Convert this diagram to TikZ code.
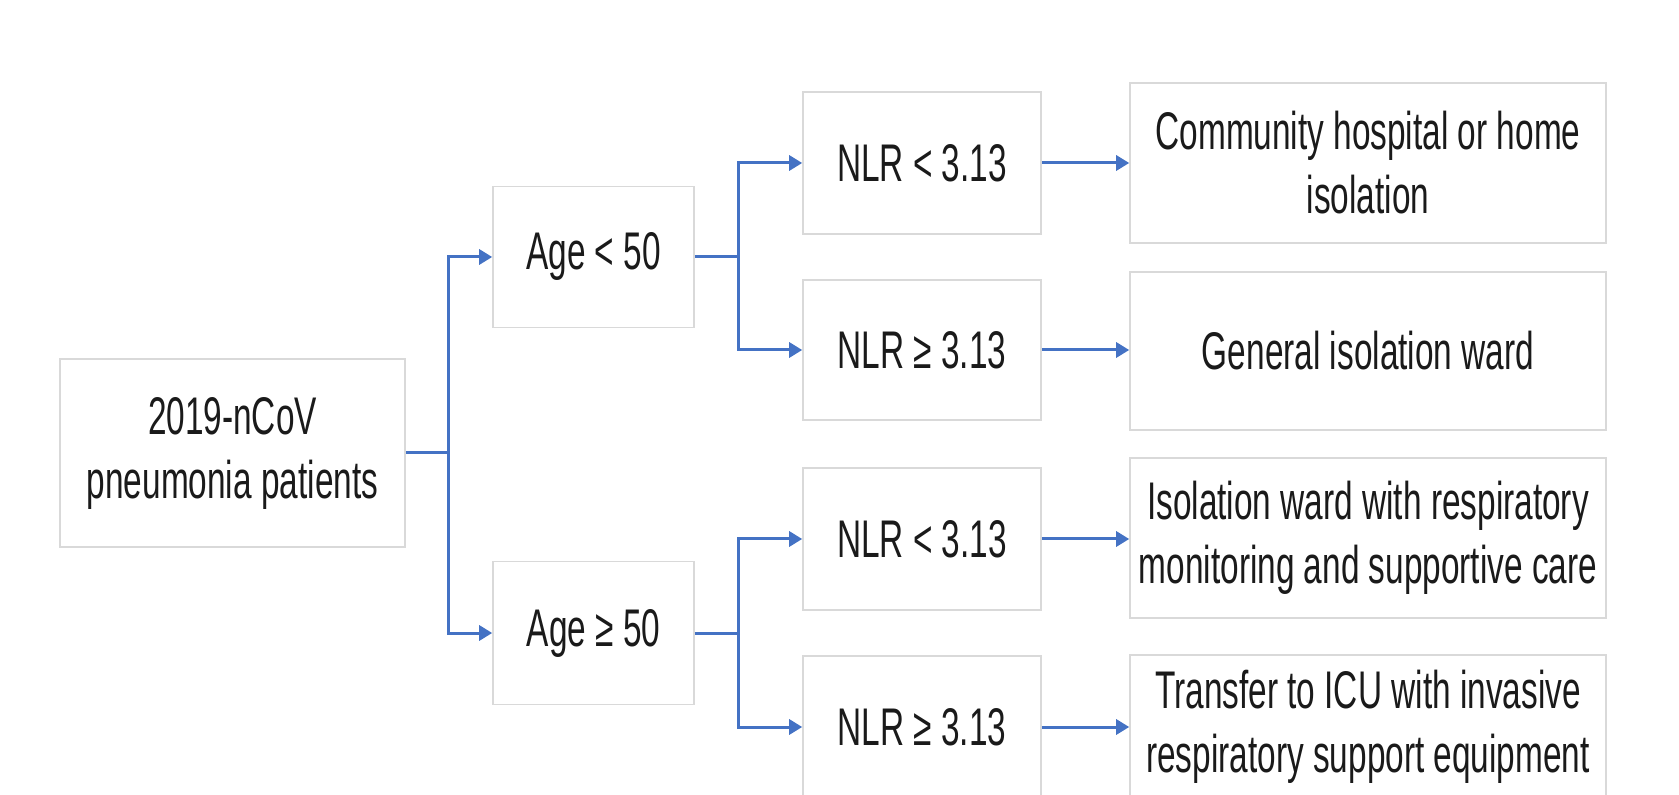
\documentclass[tikz,border=0pt]{standalone}
\usepackage{fontspec}
\usetikzlibrary{arrows.meta}
\newfontfamily\condsans[FakeStretch=0.63]{Liberation Sans}
\definecolor{flowblue}{HTML}{4472C4}
\definecolor{boxgray}{HTML}{D9D9D9}
\definecolor{txt}{HTML}{1A1A1A}
\begin{document}
\begin{tikzpicture}[x=0.5pt,y=-0.5pt,
  box/.style={draw=boxgray, line width=0.8pt, fill=white, inner sep=0pt, align=center,
    text=txt, font=\condsans\fontsize{26.5pt}{32pt}\selectfont},
  link/.style={draw=flowblue, line width=1.5pt},
  arr/.style={link, -{Triangle[length=6.5pt,width=7.5pt]}}]
\useasboundingbox (0,0) rectangle (1679,795);
\clip (0,0) rectangle (1679,795);
\fill[white] (0,0) rectangle (1679,795);
% nodes (sizes in pt = pixels / 2)
\node[box, minimum width=172.5pt, minimum height=94pt] (start) at (232.5,453) {2019-nCoV\\pneumonia patients};
\node[box, minimum width=100.5pt, minimum height=70.5pt] (age1) at (593.5,257) {Age < 50};
\node[box, minimum width=100.5pt, minimum height=71.5pt] (age2) at (593.5,633) {Age ≥ 50};
\node[box, minimum width=119pt, minimum height=71pt] (n1) at (922,163) {NLR < 3.13};
\node[box, minimum width=119pt, minimum height=70pt] (n2) at (922,350) {NLR ≥ 3.13};
\node[box, minimum width=119pt, minimum height=71pt] (n3) at (922,539) {NLR < 3.13};
\node[box, minimum width=119pt, minimum height=71pt] (n4) at (922,727) {NLR ≥ 3.13};
\node[box, minimum width=238pt, minimum height=80pt] (r1) at (1368,163) {Community hospital or home\\isolation};
\node[box, minimum width=238pt, minimum height=79pt] (r2) at (1368,351) {General isolation ward};
\node[box, minimum width=238pt, minimum height=80pt] (r3) at (1368,538) {Isolation ward with respiratory\\monitoring and supportive care};
\node[box, minimum width=238pt, minimum height=72pt] (r4) at (1368,727) {Transfer to ICU with invasive\\respiratory support equipment};
% junctions
\coordinate (j1) at (448,453);
\coordinate (j2) at (738,257);
\coordinate (j3) at (738,633);
% connectors
\draw[link] (start.east) -- (j1);
\draw[arr] (j1) |- (age1.west);
\draw[arr] (j1) |- (age2.west);
\draw[link] (age1.east) -- (j2);
\draw[arr] (j2) |- (n1.west);
\draw[arr] (j2) |- (n2.west);
\draw[link] (age2.east) -- (j3);
\draw[arr] (j3) |- (n3.west);
\draw[arr] (j3) |- (n4.west);
\draw[arr] (n1.east) -- (n1.east -| r1.west);
\draw[arr] (n2.east) -- (n2.east -| r2.west);
\draw[arr] (n3.east) -- (n3.east -| r3.west);
\draw[arr] (n4.east) -- (n4.east -| r4.west);
\end{tikzpicture}
\end{document}
